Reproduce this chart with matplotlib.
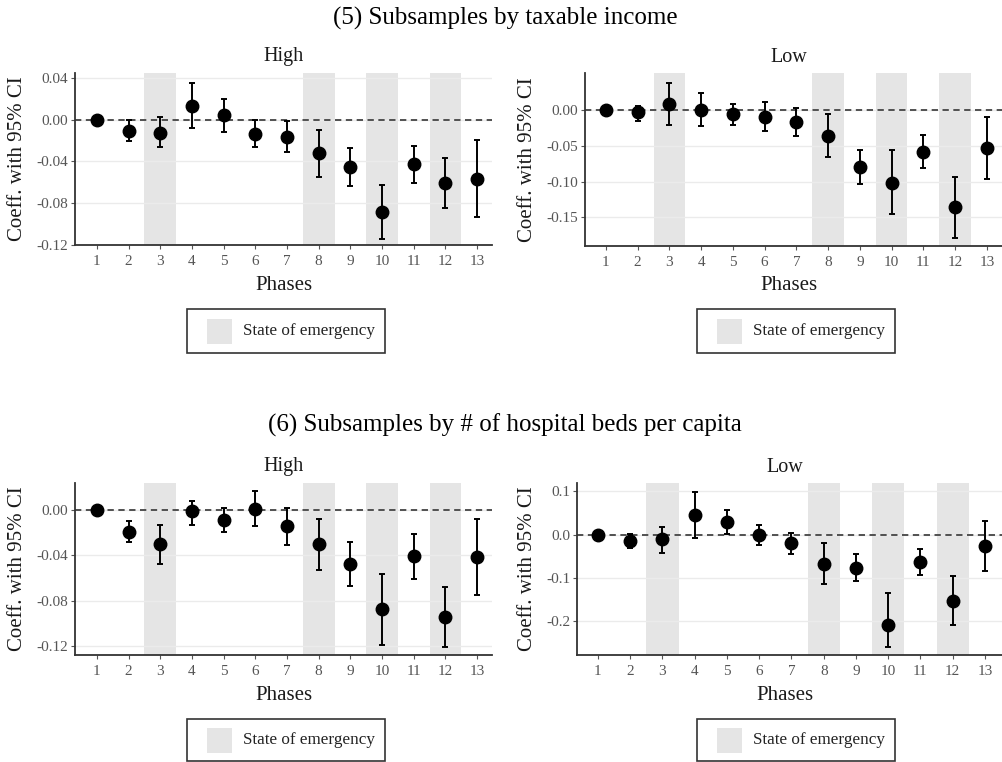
import matplotlib
matplotlib.use("Agg")
import matplotlib.pyplot as plt
from matplotlib.patches import Rectangle
import numpy as np

plt.rcParams['font.family'] = ['Liberation Serif', 'DejaVu Serif']

phases = list(range(1, 14))
emergency_phases = [3, 8, 10, 12]

# (5) taxable income - High
inc_high_coef = [0.000, -0.011, -0.0125, 0.013, 0.004, -0.0134, -0.0166, -0.032, -0.0454, -0.0886, -0.0429, -0.0608, -0.0566]
inc_high_lo = [0.000, -0.021, -0.026, -0.008, -0.012, -0.026, -0.031, -0.055, -0.064, -0.114, -0.061, -0.0845, -0.0928]
inc_high_hi = [0.000, 0.000, 0.002, 0.0346, 0.020, -0.0006, -0.001, -0.0096, -0.027, -0.0624, -0.025, -0.037, -0.0192]

# (5) taxable income - Low
inc_low_coef = [0.000, -0.003, 0.008, 0.000, -0.0065, -0.0103, -0.0168, -0.036, -0.0794, -0.1019, -0.0584, -0.1355, -0.0533]
inc_low_lo = [0.000, -0.015, -0.0215, -0.023, -0.0215, -0.030, -0.0364, -0.0654, -0.1037, -0.1458, -0.0813, -0.1794, -0.0972]
inc_low_hi = [0.000, 0.0056, 0.037, 0.023, 0.0084, 0.0103, 0.0028, -0.0065, -0.056, -0.056, -0.0355, -0.0935, -0.0098]

# (6) hospital beds - High
beds_high_coef = [0.000, -0.0195, -0.0304, -0.0015, -0.0091, 0.0009, -0.0147, -0.0304, -0.0478, -0.0875, -0.0404, -0.0946, -0.0419]
beds_high_lo = [0.000, -0.0286, -0.048, -0.0133, -0.020, -0.0144, -0.031, -0.053, -0.0672, -0.1188, -0.0613, -0.1211, -0.0755]
beds_high_hi = [0.000, -0.010, -0.0133, 0.008, 0.0018, 0.0165, 0.0018, -0.008, -0.028, -0.0569, -0.0212, -0.0678, -0.008]

# (6) hospital beds - Low
beds_low_coef = [0.000, -0.0155, -0.011, 0.045, 0.0295, 0.000, -0.0194, -0.0676, -0.0777, -0.209, -0.0645, -0.153, -0.0264]
beds_low_lo = [0.000, -0.032, -0.0435, -0.0085, 0.0008, -0.0249, -0.0443, -0.1134, -0.107, -0.2595, -0.0932, -0.2098, -0.0855]
beds_low_hi = [0.000, 0.002, 0.0186, 0.0995, 0.0567, 0.0218, 0.0047, -0.0186, -0.0459, -0.1352, -0.0342, -0.0963, 0.0303]

titles = ["(5) Subsamples by taxable income", "(6) Subsamples by # of hospital beds per capita"]
legend_label = "State of emergency"

W, H = 1003, 762
fig = plt.figure(figsize=(W / 100, H / 100), dpi=100)


def px_axes(left, right, top, bottom):
    return fig.add_axes([left / W, 1 - bottom / H, (right - left) / W, (bottom - top) / H])


def fx(x):
    return x / W


def fy(y):
    return 1 - y / H


panels = [
    dict(box=(75, 492, 73, 245), coef=inc_high_coef, lo=inc_high_lo, hi=inc_high_hi,
         ylim=(-0.12, 0.0445), yticks=[-0.12, -0.08, -0.04, 0.00, 0.04], fmt="{:.2f}",
         title="High", xlim=(0.31, 13.47)),
    dict(box=(585, 1003, 73, 246), coef=inc_low_coef, lo=inc_low_lo, hi=inc_low_hi,
         ylim=(-0.19, 0.0514), yticks=[-0.15, -0.10, -0.05, 0.00], fmt="{:.2f}",
         title="Low", xlim=(0.34, 13.51)),
    dict(box=(75, 492, 483, 655), coef=beds_high_coef, lo=beds_high_lo, hi=beds_high_hi,
         ylim=(-0.128, 0.0236), yticks=[-0.12, -0.08, -0.04, 0.00], fmt="{:.2f}",
         title="High", xlim=(0.31, 13.47)),
    dict(box=(577, 1003, 483, 655), coef=beds_low_coef, lo=beds_low_lo, hi=beds_low_hi,
         ylim=(-0.279, 0.1194), yticks=[-0.2, -0.1, 0.0, 0.1], fmt="{:.1f}",
         title="Low", xlim=(0.35, 13.56)),
]

grid_col = "#ebebeb"
shade_col = "#e5e5e5"
spine_col = "#333333"
tick_col = "#555555"

for p in panels:
    l, r, t, b = p["box"]
    ax = px_axes(l, r, t, b)
    ax.set_xlim(*p["xlim"])
    ax.set_ylim(*p["ylim"])
    for ph in emergency_phases:
        ax.axvspan(ph - 0.5, ph + 0.5, color=shade_col, lw=0, zorder=0)
    for yt in p["yticks"]:
        ax.axhline(yt, color=grid_col, lw=1.0, zorder=0.5)
    ax.axhline(0, color="#444444", lw=1.3, ls=(0, (3.5, 2.5)), zorder=1)
    coef = np.array(p["coef"])
    lo = np.array(p["lo"])
    hi = np.array(p["hi"])
    ax.errorbar(phases, coef, yerr=[coef - lo, hi - coef], fmt="o", color="black",
                ms=9, elinewidth=1.4, capsize=2.5, capthick=1.4, zorder=3)
    ax.set_xticks(phases)
    ax.set_xticklabels([str(v) for v in phases])
    ax.set_yticks(p["yticks"])
    ax.set_yticklabels([p["fmt"].format(v) for v in p["yticks"]])
    ax.tick_params(axis="both", colors=tick_col, labelsize=11, length=3, width=0.8)
    ax.tick_params(axis="x", pad=4)
    ax.tick_params(axis="y", pad=2)
    for s in ["top", "right"]:
        ax.spines[s].set_visible(False)
    for s in ["left", "bottom"]:
        ax.spines[s].set_color(spine_col)
        ax.spines[s].set_linewidth(1.3)
    ax.set_facecolor("white")
    cx = (l + min(r, 992)) / 2
    fig.text(fx(cx), fy(t - 16), p["title"], ha="center", va="center", fontsize=14.5, color="#1a1a1a")
    fig.text(fx(cx), fy(b + 40), "Phases", ha="center", va="center", fontsize=15, color="#1a1a1a")
    ylx = 18 if l < 300 else 528
    fig.text(fx(ylx), fy((t + b) / 2), "Coeff. with 95% CI", ha="center", va="center",
             rotation=90, fontsize=15, color="#1a1a1a")

# Suptitles
fig.text(fx(505), fy(18), titles[0], ha="center", va="center", fontsize=18, color="black")
fig.text(fx(505), fy(425), titles[1], ha="center", va="center", fontsize=18, color="black")

# Legends
legend_boxes = [(187, 385, 309, 353), (697, 895, 309, 353), (187, 385, 719, 761), (697, 895, 719, 761)]
for (l, r, t, b) in legend_boxes:
    fig.patches.append(Rectangle((fx(l), fy(b)), (r - l) / W, (b - t) / H, transform=fig.transFigure,
                                 facecolor="white", edgecolor="#333333", lw=1.2))
    cy = (t + b) / 2
    fig.patches.append(Rectangle((fx(l + 20), fy(cy + 12.5)), 25 / W, 25 / H, transform=fig.transFigure,
                                 facecolor=shade_col, edgecolor="none"))
    fig.text(fx(l + 56), fy(cy), legend_label, ha="left", va="center", fontsize=12.3, color="#222222")

fig.savefig("out.png", dpi=100)
